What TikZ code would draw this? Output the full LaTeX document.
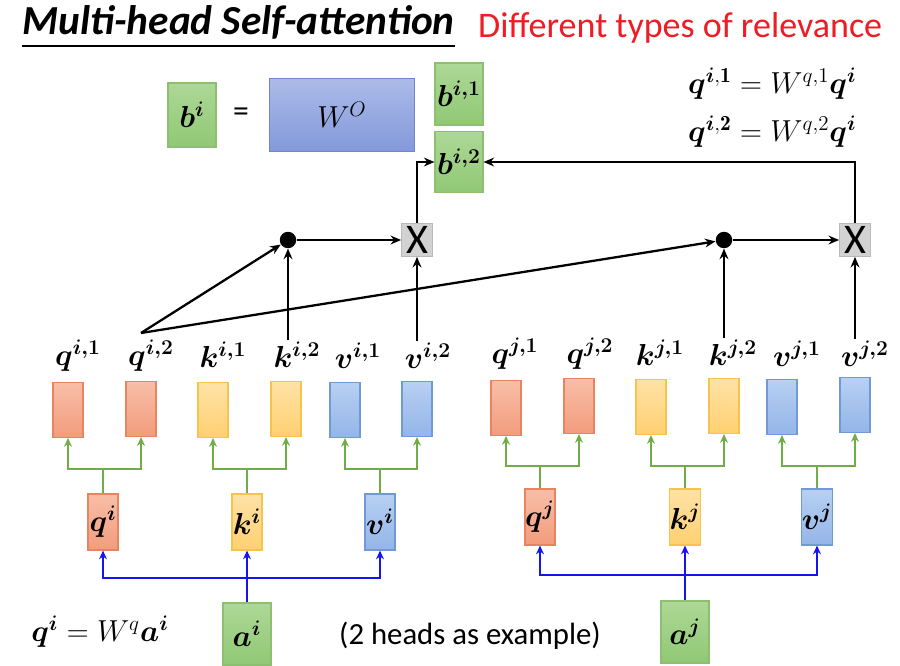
\documentclass[tikz,border=0pt]{standalone}
\usepackage{amsmath,bm}
\usepackage{fontspec}
\newfontfamily\calib{Carlito}
\usetikzlibrary{positioning,arrows.meta}

\definecolor{qtop}{HTML}{F8BEA8}
\definecolor{qbot}{HTML}{F29C7C}
\definecolor{qedge}{HTML}{E8845F}
\definecolor{ktop}{HTML}{FFE2A6}
\definecolor{kbot}{HTML}{FFD071}
\definecolor{kedge}{HTML}{F6C44E}
\definecolor{vtop}{HTML}{B8D0F2}
\definecolor{vbot}{HTML}{93B5E8}
\definecolor{vedge}{HTML}{7099D6}
\definecolor{gtop}{HTML}{ADD896}
\definecolor{gbot}{HTML}{90C875}
\definecolor{gedge}{HTML}{8CC070}
\definecolor{wtop}{HTML}{ABBAE8}
\definecolor{wbot}{HTML}{8399DA}
\definecolor{wedge}{HTML}{6F86CF}
\definecolor{linegreen}{HTML}{70AD47}
\definecolor{lineblue}{HTML}{1414F0}
\definecolor{relred}{HTML}{EE1C25}

\newcommand{\labfont}{\fontsize{17}{20}\selectfont\boldmath}

\begin{document}
\begin{tikzpicture}[x=0.02cm, y=-0.02cm,
        vec/.style={draw=#1edge, top color=#1top, bottom color=#1bot,
                    minimum width=0.6cm, minimum height=1.1cm, inner sep=0pt,
                    line width=0.6pt},
        small/.style={vec=#1, minimum height=1.12cm, font=\labfont},
        blk/.style={draw=#1edge, top color=#1top, bottom color=#1bot,
                    minimum width=0.96cm, minimum height=1.24cm, inner sep=0pt,
                    line width=0.6pt, font=\labfont},
        lab/.style={font=\labfont, inner sep=1pt},
        dotnode/.style={circle, fill=black, minimum size=0.33cm, inner sep=0pt},
        mul/.style={draw=gray!55, fill=gray!35, minimum width=0.62cm,
                    minimum height=0.66cm, inner sep=0pt,
                    font=\calib\fontsize{24}{24}\selectfont},
        arr/.style={-{Stealth[length=6pt,width=5pt]}, line width=1.3pt},
        grn/.style={draw=linegreen, line width=1.5pt,
                    -{Stealth[length=5pt,width=4.5pt]}},
        blu/.style={draw=lineblue, line width=1.5pt,
                    -{Stealth[length=5pt,width=4.5pt]}},
    ]
    \useasboundingbox (0,0) rectangle (900,666);

    % title
    \node[anchor=west, font=\calib\fontsize{23.5}{26}\selectfont\bfseries\itshape]
        (title) at (16,27) {\underline{Multi-head Self-attention}};
    \node[anchor=west, text=relred, font=\calib\fontsize{20.5}{24}\selectfont]
        (sub) at (472,28) {Different types of relevance};

    % output b^i = W^O [b^{i,1}; b^{i,2}]
    \node[blk=g, minimum height=1.28cm] (bi) at (192,115) {$b^i$};
    \node[font=\calib\fontsize{18}{20}\selectfont] (eqsign) at (241,115) {=};
    \node[draw=wedge, top color=wtop, bottom color=wbot, line width=0.6pt,
          minimum width=2.9cm, minimum height=1.46cm,
          font=\fontsize{17}{20}\selectfont] (wo) at (342,115) {$W^O$};
    \node[blk=g] (bi1) at (459,94) {$b^{i,1}$};
    \node[blk=g, minimum height=1.22cm] (bi2) at (459,162) {$b^{i,2}$};

    \node[anchor=west, font=\fontsize{17.5}{20}\selectfont] (eqa) at (682,84)
        {$\bm{q}^{\bm{i},\mathbf{1}} = W^{q,1}\bm{q}^{\bm{i}}$};
    \node[anchor=west, font=\fontsize{17.5}{20}\selectfont] (eqb) at (682,132)
        {$\bm{q}^{\bm{i},\mathbf{2}} = W^{q,2}\bm{q}^{\bm{i}}$};

    % attention of head 2
    \node[dotnode] (dot1) at (288,240) {};
    \node[mul] (x1) at (417,240) {X};
    \node[dotnode] (dot2) at (724,240) {};
    \node[mul] (x2) at (855,240) {X};

    % head vectors, token i
    \node[vec=q] (qi1) at (68,410) {};
    \node[vec=q] (qi2) at (141,409) {};
    \node[vec=k] (ki1) at (213,410) {};
    \node[vec=k] (ki2) at (286,409) {};
    \node[vec=v] (vi1) at (345,410) {};
    \node[vec=v] (vi2) at (417,409) {};
    % head vectors, token j
    \node[vec=q] (qj1) at (506,408) {};
    \node[vec=q] (qj2) at (579,406) {};
    \node[vec=k] (kj1) at (651,407) {};
    \node[vec=k] (kj2) at (724,406) {};
    \node[vec=v] (vj1) at (782,407) {};
    \node[vec=v] (vj2) at (855,405) {};

    \node[lab] (lqi1) at (78,356) {$q^{i,1}$};
    \node[lab] (lqi2) at (151,356) {$q^{i,2}$};
    \node[lab] (lki1) at (223,355) {$k^{i,1}$};
    \node[lab] (lki2) at (297,355) {$k^{i,2}$};
    \node[lab] (lvi1) at (358,356) {$v^{i,1}$};
    \node[lab] (lvi2) at (428,356) {$v^{i,2}$};
    \node[lab] (lqj1) at (515,354) {$q^{j,1}$};
    \node[lab] (lqj2) at (590,354) {$q^{j,2}$};
    \node[lab] (lkj1) at (660,353) {$k^{j,1}$};
    \node[lab] (lkj2) at (733,353) {$k^{j,2}$};
    \node[lab] (lvj1) at (797,354) {$v^{j,1}$};
    \node[lab] (lvj2) at (865,354) {$v^{j,2}$};

    % q, k, v of each token
    \node[small=q] (qi) at (103,522) {$q^i$};
    \node[small=k] (ki) at (247,522) {$k^i$};
    \node[small=v] (vi) at (380,522) {$v^i$};
    \node[small=q] (qj) at (540,517) {$q^j$};
    \node[small=k] (kj) at (685,517) {$k^j$};
    \node[small=v] (vj) at (817,517) {$v^j$};

    % inputs
    \node[blk=g] (ai) at (247,634) {$a^i$};
    \node[blk=g] (aj) at (685,632) {$a^j$};

    \node[font=\fontsize{17.5}{20}\selectfont] (eqq) at (100,632)
        {$\bm{q}^{\bm{i}} = W^{q}\bm{a}^{\bm{i}}$};
    \node[font=\calib\fontsize{17.5}{20}\selectfont] (note) at (470,636)
        {(2 heads as example)};

    % input to q, k, v
    \coordinate (fi) at (247,578);
    \coordinate (fj) at (685,575);
    \draw[blu] (ai) -- (ki);
    \draw[blu] (fi) -| (qi);
    \draw[blu] (fi) -| (vi);
    \draw[blu] (aj) -- (kj);
    \draw[blu] (fj) -| (qj);
    \draw[blu] (fj) -| (vj);

    % split into heads
    \coordinate (gqi) at (103,469);
    \coordinate (gki) at (247,469);
    \coordinate (gvi) at (380,469);
    \coordinate (gqj) at (540,466);
    \coordinate (gkj) at (685,466);
    \coordinate (gvj) at (817,466);
    \draw[grn, -] (qi) -- (gqi);
    \draw[grn] (gqi) -| (qi1);
    \draw[grn] (gqi) -| (qi2);
    \draw[grn, -] (ki) -- (gki);
    \draw[grn] (gki) -| (ki1);
    \draw[grn] (gki) -| (ki2);
    \draw[grn, -] (vi) -- (gvi);
    \draw[grn] (gvi) -| (vi1);
    \draw[grn] (gvi) -| (vi2);
    \draw[grn, -] (qj) -- (gqj);
    \draw[grn] (gqj) -| (qj1);
    \draw[grn] (gqj) -| (qj2);
    \draw[grn, -] (kj) -- (gkj);
    \draw[grn] (gkj) -| (kj1);
    \draw[grn] (gkj) -| (kj2);
    \draw[grn, -] (vj) -- (gvj);
    \draw[grn] (gvj) -| (vj1);
    \draw[grn] (gvj) -| (vj2);

    % head 2 of token i
    \coordinate (qsrc) at (141,333);
    \draw[arr] (qsrc) -- (dot1);
    \draw[arr] (qsrc) -- (dot2);
    \draw[arr] (lki2.north -| dot1) -- (dot1);
    \draw[arr] (lvi2.north -| x1) -- (x1);
    \draw[arr] (lkj2.north -| dot2) -- (dot2);
    \draw[arr] (lvj2.north -| x2) -- (x2);
    \draw[arr] (dot1) -- (x1);
    \draw[arr] (dot2) -- (x2);
    \draw[arr] (x1) |- (bi2);
    \draw[arr] (x2) |- (bi2);
\end{tikzpicture}
\end{document}
